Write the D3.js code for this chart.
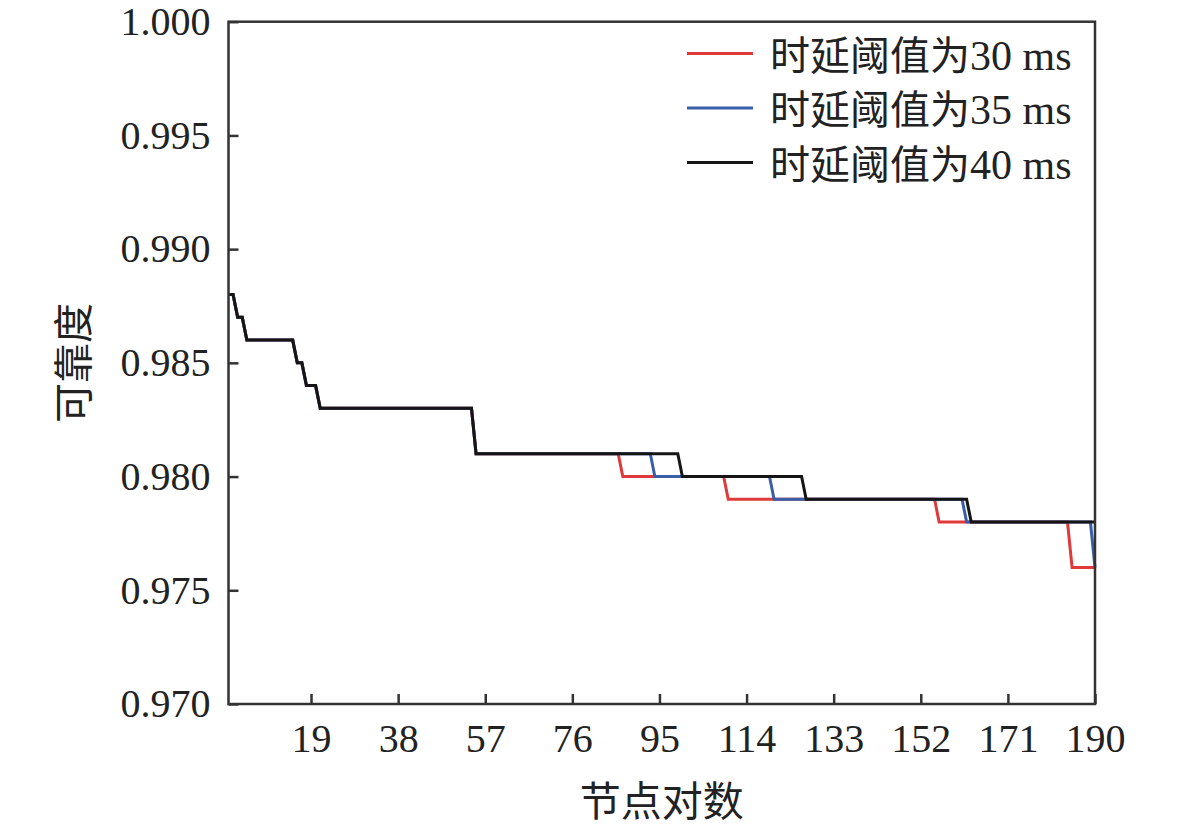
<!DOCTYPE html>
<html>
<head>
<meta charset="utf-8">
<script src="https://cdn.jsdelivr.net/npm/d3@7"></script>
<style>
  body { margin: 0; background: #fff; }
  text { font-family: "Liberation Serif", "Times New Roman", "Noto Sans CJK SC", serif; fill: #222; }
</style>
</head>
<body>
<div id="chart"></div>
<script>
var svgWidth = 1181;
var svgHeight = 828;

// step levels: each entry = [first node-pair index, reliability]
var commonSteps = [[1, 0.988], [3, 0.987], [5, 0.986], [16, 0.985], [18, 0.984], [21, 0.983], [55, 0.981]];
var steps30 = [[87, 0.980], [110, 0.979], [156, 0.978], [185, 0.976]];
var steps35 = [[94, 0.980], [120, 0.979], [162, 0.978], [190, 0.976]];
var steps40 = [[100, 0.980], [127, 0.979], [163, 0.978]];

var seriesPrefix = "时延阈值为";
var seriesNames = ["30 ms", "35 ms", "40 ms"];
var seriesColors = ["#e0393b", "#3a5ea8", "#151515"];
var xTicks = [19, 38, 57, 76, 95, 114, 133, 152, 171, 190];
var yTicks = [0.970, 0.975, 0.980, 0.985, 0.990, 0.995, 1.000];
var nPairs = 190;

var margin = { top: 21.7, right: 86, bottom: 124, left: 228.5 };
var width = svgWidth - margin.left - margin.right;
var height = svgHeight - margin.top - margin.bottom;

// expand step levels into one value per node pair
function expand(steps) {
  var all = commonSteps.concat(steps);
  var pts = [];
  for (var i = 1; i <= nPairs; i++) {
    var v = all[0][1];
    all.forEach(function(s) { if (i >= s[0]) v = s[1]; });
    pts.push({ x: i, y: v });
  }
  return pts;
}

var series = [expand(steps30), expand(steps35), expand(steps40)];

var svg = d3.select("#chart")
  .append("svg")
  .attr("width", svgWidth)
  .attr("height", svgHeight);

var chartGroup = svg.append("g")
  .attr("transform", `translate(${margin.left}, ${margin.top})`);

var xScale = d3.scaleLinear().domain([1, nPairs]).range([0, width]);
var yScale = d3.scaleLinear().domain([0.970, 1.000]).range([height, 0]);

// lines
var line = d3.line()
  .x(d => xScale(d.x))
  .y(d => yScale(d.y));

chartGroup.selectAll(".series")
  .data(series)
  .enter()
  .append("path")
  .attr("d", line)
  .attr("fill", "none")
  .attr("stroke", (d, i) => seriesColors[i])
  .attr("stroke-width", 3)
  .attr("stroke-linejoin", "miter");

// axes (ticks pointing inward)
var bottomAxis = d3.axisBottom(xScale).tickValues(xTicks).tickSize(-10).tickPadding(20);
var leftAxis = d3.axisLeft(yScale).tickValues(yTicks).tickSize(-10).tickPadding(18)
  .tickFormat(d3.format(".3f"));

var xAxis = chartGroup.append("g")
  .attr("transform", `translate(0, ${height})`)
  .call(bottomAxis);

var yAxis = chartGroup.append("g")
  .call(leftAxis);

[xAxis, yAxis].forEach(function(ax) {
  ax.select(".domain").remove();
  ax.selectAll("line").attr("stroke", "#333").attr("stroke-width", 2.5);
  ax.selectAll("text").attr("font-size", "40px").attr("fill", "#222");
});

// frame
chartGroup.append("rect")
  .attr("x", 0)
  .attr("y", 0)
  .attr("width", width)
  .attr("height", height)
  .attr("fill", "none")
  .attr("stroke", "#333")
  .attr("stroke-width", 2.5);

// axis titles
svg.append("text")
  .attr("x", margin.left + width / 2)
  .attr("y", 802)
  .attr("text-anchor", "middle")
  .attr("dominant-baseline", "central")
  .attr("font-size", "41px")
  .text("节点对数");

svg.append("text")
  .attr("transform", "translate(74, 363) rotate(-90)")
  .attr("text-anchor", "middle")
  .attr("dominant-baseline", "central")
  .attr("font-size", "40px")
  .text("可靠度");

// legend
var legend = svg.append("g")
  .attr("transform", "translate(687, 53.5)");

var legendItems = legend.selectAll("g")
  .data(seriesNames)
  .enter()
  .append("g")
  .attr("transform", (d, i) => `translate(0, ${i * 54.5})`);

legendItems.append("line")
  .attr("x1", 0)
  .attr("x2", 66)
  .attr("y1", 0)
  .attr("y2", 0)
  .attr("stroke", (d, i) => seriesColors[i])
  .attr("stroke-width", 3);

var legendText = legendItems.append("text")
  .attr("x", 83)
  .attr("y", 16);

legendText.append("tspan")
  .attr("font-size", "40px")
  .text(seriesPrefix);

legendText.append("tspan")
  .attr("font-size", "42px")
  .text(d => d);
</script>
</body>
</html>
